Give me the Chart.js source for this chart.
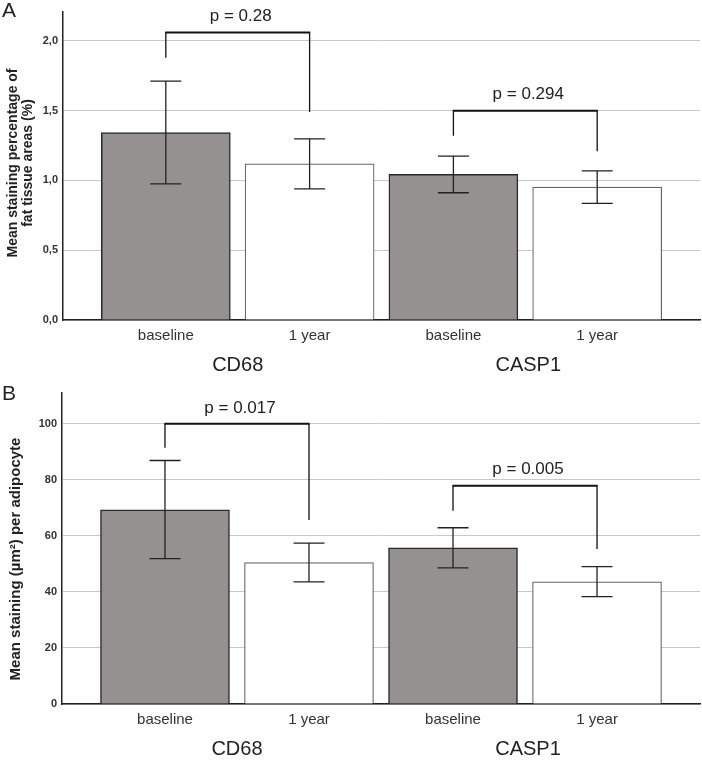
<!DOCTYPE html>
<html>
<head>
<meta charset="utf-8">
<script src="https://cdn.jsdelivr.net/npm/chart.js@4.4.1/dist/chart.umd.min.js"></script>
<style>
    body { margin: 0; background: #fff; }
    .panel { position: absolute; left: 0; width: 702px; height: 380px; }
    #panelA { top: 0; }
    #panelB { top: 380px; }
</style>
</head>
<body>
<div class="panel" id="panelA"><canvas id="chartA" width="702" height="380"></canvas></div>
<div class="panel" id="panelB"><canvas id="chartB" width="702" height="380"></canvas></div>
<script>
/* 1. 데이터 */
const categories = ['baseline', '1 year', 'baseline', '1 year'];
const groups = ['CD68', 'CASP1'];
const pairs = [[0, 1], [2, 3]];

// A: mean staining percentage of fat tissue areas (%)
const pctMeans = [1.343, 1.119, 1.043, 0.952];
const pctLower = [0.976, 0.94, 0.912, 0.836];
const pctUpper = [1.712, 1.298, 1.174, 1.069];
const pctTicks = [0, 0.5, 1.0, 1.5, 2.0];
const pctPValues = ['p = 0.28', 'p = 0.294'];
const pctBracketTop = [2.06, 1.5];
const pctBracketLegs = [[1.88, 1.49], [1.32, 1.21]];

// B: mean staining (µm²) per adipocyte
const areaMeans = [69.3, 50.5, 55.7, 43.6];
const areaLower = [51.9, 43.6, 48.6, 38.3];
const areaUpper = [86.9, 57.4, 62.9, 49.0];
const areaTicks = [0, 20, 40, 60, 80, 100];
const areaPValues = ['p = 0.017', 'p = 0.005'];
const areaBracketTop = [100, 77.9];
const areaBracketLegs = [[91.5, 65.7], [69.0, 55.3]];

Chart.defaults.font.family = '"Liberation Sans", Arial, sans-serif';
Chart.defaults.color = '#222';

/* 2. 에러바, p값 브래킷, 제목 등 그리는 플러그인 */
const annotatePlugin = {
    id: 'annotate',
    afterDatasetsDraw(chart, args, opts) {
        const ctx = chart.ctx;
        const x = chart.scales.x;
        const y = chart.scales.y;
        ctx.save();

        // 에러바
        ctx.strokeStyle = '#222';
        ctx.lineWidth = 1.3;
        opts.lower.forEach((lo, i) => {
            const px = x.getPixelForValue(i);
            const yTop = y.getPixelForValue(opts.upper[i]);
            const yBot = y.getPixelForValue(lo);
            ctx.beginPath();
            ctx.moveTo(px, yTop); ctx.lineTo(px, yBot);
            ctx.moveTo(px - 15.5, yTop); ctx.lineTo(px + 15.5, yTop);
            ctx.moveTo(px - 15.5, yBot); ctx.lineTo(px + 15.5, yBot);
            ctx.stroke();
        });

        // 브래킷 + p값
        pairs.forEach((pair, k) => {
            const xa = x.getPixelForValue(pair[0]);
            const xb = x.getPixelForValue(pair[1]);
            const yTop = y.getPixelForValue(opts.bracketTop[k]);
            ctx.strokeStyle = '#111';
            ctx.lineWidth = 1.3;
            ctx.beginPath();
            ctx.moveTo(xa, y.getPixelForValue(opts.legs[k][0])); ctx.lineTo(xa, yTop);
            ctx.moveTo(xb, y.getPixelForValue(opts.legs[k][1])); ctx.lineTo(xb, yTop);
            ctx.stroke();
            ctx.lineWidth = 2;
            ctx.beginPath();
            ctx.moveTo(xa - 0.6, yTop); ctx.lineTo(xb + 0.6, yTop);
            ctx.stroke();

            ctx.fillStyle = '#222';
            ctx.font = '17px "Liberation Sans", Arial, sans-serif';
            ctx.textAlign = 'center';
            ctx.textBaseline = 'middle';
            ctx.fillText(opts.pValues[k], (xa + xb) / 2 + 3, yTop - 16);
        });

        // 그룹 라벨 (CD68 / CASP1)
        ctx.font = '20px "Liberation Sans", Arial, sans-serif';
        ctx.fillStyle = '#222';
        ctx.textAlign = 'center';
        ctx.textBaseline = 'middle';
        pairs.forEach((pair, k) => {
            const px = (x.getPixelForValue(pair[0]) + x.getPixelForValue(pair[1])) / 2;
            ctx.fillText(groups[k], px + (k === 1 ? 3 : 0), chart.chartArea.bottom + 45);
        });

        // 패널 문자
        ctx.font = '21px "Liberation Sans", Arial, sans-serif';
        ctx.textAlign = 'left';
        ctx.textBaseline = 'top';
        ctx.fillText(opts.letter, 2, opts.letterY);

        // y축 제목 (세로)
        ctx.font = 'bold ' + opts.titleSize + 'px "Liberation Sans", Arial, sans-serif';
        ctx.textAlign = 'center';
        ctx.textBaseline = 'middle';
        opts.title.forEach((line, j) => {
            ctx.save();
            ctx.translate(opts.titleX[j], opts.titleY);
            ctx.rotate(-Math.PI / 2);
            ctx.fillText(line, 0, 0);
            ctx.restore();
        });
        ctx.restore();
    }
};

/* 3. 패널 생성 */
function makePanel(canvasId, p) {
    const ctx = document.getElementById(canvasId).getContext('2d');
    return new Chart(ctx, {
        type: 'bar',
        data: {
            datasets: [{
                data: p.means.map((v, i) => ({ x: i, y: v })),
                backgroundColor: ['#959190', '#ffffff', '#959190', '#ffffff'],
                borderColor: ['#2b2b2b', '#666666', '#2b2b2b', '#666666'],
                borderWidth: [1.5, 1.2, 1.5, 1.2],
                barThickness: 129
            }]
        },
        options: {
            responsive: false,
            animation: false,
            layout: { padding: { top: p.top, right: 2, left: 0, bottom: 0 } },
            plugins: {
                legend: { display: false },
                tooltip: { enabled: false },
                annotate: p.annot
            },
            scales: {
                x: {
                    type: 'linear',
                    offset: false,
                    min: -0.715,
                    max: 3.715,
                    afterFit: s => { s.height = p.xHeight; },
                    afterBuildTicks: s => { s.ticks = categories.map((c, i) => ({ value: i })); },
                    grid: { display: false, drawTicks: false, offset: false },
                    border: { color: '#222', width: 1.5 },
                    ticks: {
                        padding: 7,
                        font: { size: 15 },
                        color: '#333',
                        callback: v => categories[v]
                    }
                },
                y: {
                    min: 0,
                    max: p.yMax,
                    afterFit: s => { s.width = p.yWidth; },
                    afterBuildTicks: s => { s.ticks = p.ticks.map(v => ({ value: v })); },
                    grid: { color: '#c8c8c8', lineWidth: 1, drawTicks: false },
                    border: { color: '#222', width: 1.5 },
                    ticks: {
                        padding: 5,
                        font: { size: 11, weight: 'bold' },
                        color: '#333',
                        callback: p.tickFmt
                    }
                }
            }
        },
        plugins: [annotatePlugin]
    });
}

makePanel('chartA', {
    means: pctMeans,
    ticks: pctTicks,
    yMax: 2.21,
    top: 10,
    xHeight: 60,
    yWidth: 63,
    tickFmt: v => v.toFixed(1).replace('.', ','),
    annot: {
        lower: pctLower, upper: pctUpper,
        bracketTop: pctBracketTop, legs: pctBracketLegs, pValues: pctPValues,
        letter: 'A', letterY: 1,
        title: ['Mean staining percentage of', 'fat tissue areas (%)'],
        titleSize: 14, titleX: [13, 28], titleY: 163
    }
});

makePanel('chartB', {
    means: areaMeans,
    ticks: areaTicks,
    yMax: 111,
    top: 13,
    xHeight: 56,
    yWidth: 62,
    tickFmt: v => String(v),
    annot: {
        lower: areaLower, upper: areaUpper,
        bracketTop: areaBracketTop, legs: areaBracketLegs, pValues: areaPValues,
        letter: 'B', letterY: 4,
        title: ['Mean staining (µm²) per adipocyte'],
        titleSize: 15, titleX: [16], titleY: 179
    }
});
</script>
</body>
</html>
